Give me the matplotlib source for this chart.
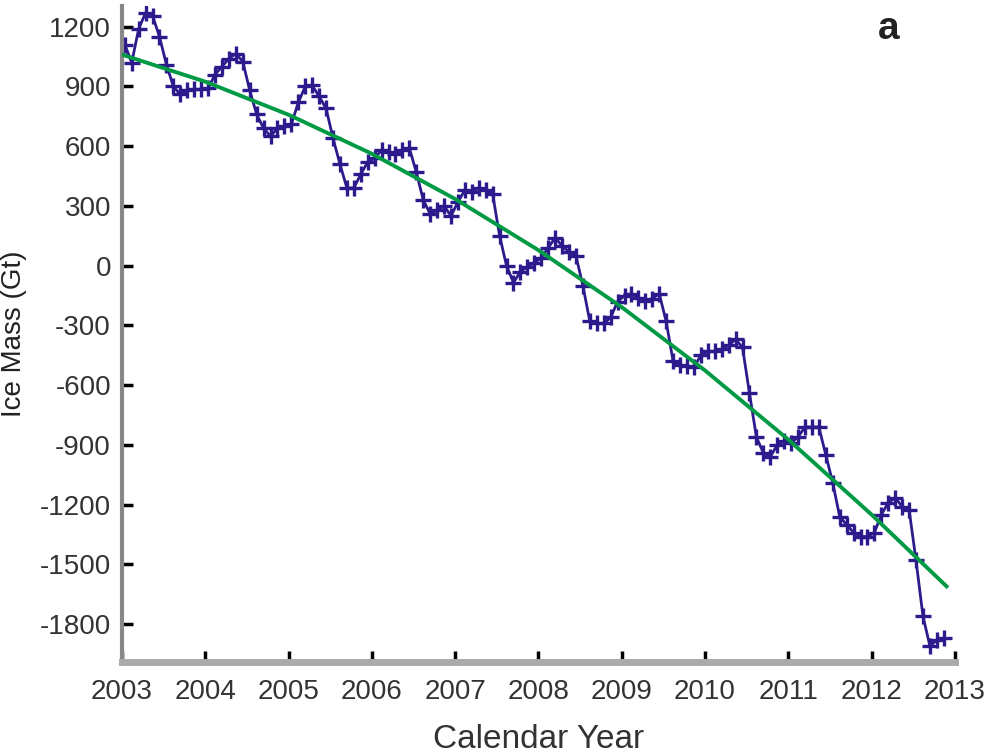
import matplotlib
matplotlib.use("Agg")
import matplotlib.pyplot as plt
import numpy as np

# monthly ice mass (Gt), Jan..Dec for each year (2012 ends in Nov)
mass_2003 = [1110, 1020, 1190, 1270, 1255, 1150, 1010, 900, 860, 880, 885, 885]
mass_2004 = [890, 960, 1000, 1040, 1065, 1025, 880, 760, 690, 650, 690, 700]
mass_2005 = [710, 820, 900, 905, 850, 790, 640, 510, 390, 390, 460, 520]
mass_2006 = [540, 580, 570, 560, 580, 590, 470, 330, 260, 280, 300, 250]
mass_2007 = [320, 380, 370, 390, 380, 360, 150, 0, -85, -30, -5, 15]
mass_2008 = [40, 90, 140, 100, 70, 50, -100, -280, -290, -290, -260, -180]
mass_2009 = [-150, -140, -160, -175, -165, -140, -280, -480, -500, -505, -510, -450]
mass_2010 = [-430, -430, -420, -400, -370, -410, -640, -860, -940, -960, -900, -880]
mass_2011 = [-890, -860, -810, -810, -810, -950, -1090, -1260, -1300, -1340, -1360, -1360]
mass_2012 = [-1340, -1250, -1190, -1165, -1210, -1225, -1480, -1760, -1910, -1880, -1870]

# quadratic trend
trend_years = [2003.0, 2004.0, 2005.0, 2006.0, 2007.0, 2008.0, 2009.0,
               2010.0, 2011.0, 2012.0, 2012.9]
trend_mass = [1060, 924, 758, 562, 335, 78, -208, -526, -873, -1250, -1610]

year_ticks = list(range(2003, 2014))
mass_ticks = [1200, 900, 600, 300, 0, -300, -600, -900, -1200, -1500, -1800]

mass = (mass_2003 + mass_2004 + mass_2005 + mass_2006 + mass_2007 + mass_2008
        + mass_2009 + mass_2010 + mass_2011 + mass_2012)
months = 2003 + (np.arange(len(mass)) + 0.4) / 12.0

plt.rcParams['font.family'] = ['Liberation Sans', 'DejaVu Sans']
plt.rcParams['axes.unicode_minus'] = False

fig = plt.figure(figsize=(9.88, 7.56), dpi=100)
ax = fig.add_axes([0.1235, 0.1243, 0.843, 0.868])

ax.plot(months, mass, color='#2b1b8c', lw=2.0, marker='+', ms=11, mew=2.4, zorder=2)
ax.plot(trend_years, trend_mass, color='#009a44', lw=2.8, zorder=3)

ax.set_xlim(2003, 2013)
ax.set_ylim(-1990, 1305)
ax.set_xticks(year_ticks)
ax.set_yticks(mass_ticks)

for side in ['top', 'right']:
    ax.spines[side].set_visible(False)
ax.spines['left'].set_color('#888888')
ax.spines['left'].set_linewidth(3)
ax.spines['bottom'].set_color('#aaaaaa')
ax.spines['bottom'].set_linewidth(5)

ax.tick_params(axis='both', direction='in', length=8, width=2.5, color='black',
               labelsize=20, labelcolor='#333333')
ax.tick_params(axis='y', pad=8)
ax.tick_params(axis='x', pad=12)

ax.set_xlabel('Calendar Year', fontsize=24, color='#333333', labelpad=14)
ax.set_ylabel('Ice Mass (Gt)', fontsize=20, color='#222222', labelpad=4)
ax.yaxis.set_label_coords(-0.114, 0.5)

ax.text(0.92, 0.965, 'a', transform=ax.transAxes, fontsize=28, fontweight='bold',
        color='#222222', ha='center', va='center')

fig.savefig('out.png', dpi=100)
